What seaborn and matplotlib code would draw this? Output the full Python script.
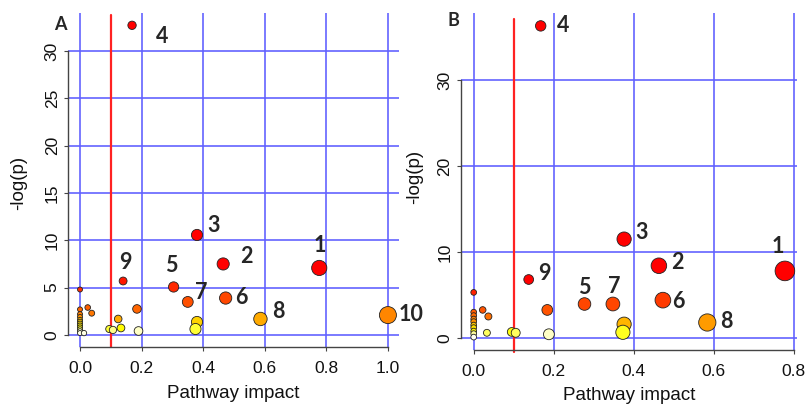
import numpy as np
import pandas as pd
import matplotlib
matplotlib.use("Agg")
import matplotlib.pyplot as plt
from matplotlib.colors import LinearSegmentedColormap, Normalize
import seaborn as sns

# ---------------- data ----------------
# Panel A
impact_a = [0.169, 0.380, 0.465, 0.777, 0.140, 0.304, 0.350, 0.473, 0.586, 1.000,
            0.185, 0.124, 0.133, 0.095, 0.107, 0.190, 0.380, 0.375, 0.025, 0.038,
            0.0, 0.0, 0.0, 0.0, 0.0, 0.0, 0.0, 0.0, 0.0, 0.0, 0.0, 0.0, 0.013]
logp_a = [32.7, 10.56, 7.5, 7.08, 5.7, 5.07, 3.49, 3.9, 1.69, 2.1,
          2.75, 1.69, 0.74, 0.63, 0.53, 0.42, 1.37, 0.63, 2.9, 2.3,
          4.8, 2.7, 2.2, 1.9, 1.6, 1.4, 1.2, 1.0, 0.8, 0.6, 0.4, 0.2, 0.2]
labels_a = ["4", "3", "2", "1", "9", "5", "7", "6", "8", "10"]

# Panel B
impact_b = [0.1675, 0.376, 0.463, 0.778, 0.1375, 0.277, 0.348, 0.473, 0.584,
            0.184, 0.0225, 0.0367, 0.033, 0.095, 0.105, 0.188, 0.376, 0.373,
            0.0, 0.0, 0.0, 0.0, 0.0, 0.0, 0.0, 0.0, 0.0, 0.0]
logp_b = [36.3, 11.5, 8.4, 7.8, 6.8, 3.95, 3.95, 4.4, 1.8,
          3.26, 3.26, 2.5, 0.6, 0.7, 0.6, 0.43, 1.6, 0.66,
          5.3, 3.0, 2.6, 2.2, 1.9, 1.5, 1.2, 0.8, 0.5, 0.1]
labels_b = ["4", "3", "2", "1", "9", "5", "7", "6", "8"]

xticks_a = [0.0, 0.2, 0.4, 0.6, 0.8, 1.0]
yticks_a = [0, 5, 10, 15, 20, 25, 30]
xticks_b = [0.0, 0.2, 0.4, 0.6, 0.8]
yticks_b = [0, 10, 20, 30]
threshold = 0.1

# label offsets in pixels (dx, dy up)
offs_a = [(30, -11), (17, 9), (23, 7), (1, 22), (2, 18), (-2, 21), (13, 9), (16, 1), (18, 7), (23, 1)]
offs_b = [(22, 0), (17, 7), (18, 3), (-7, 24), (16, 6), (0, 17), (1, 18), (15, -1), (19, 1)]

# ---------------- style ----------------
sns.set_style("white")
plt.rcParams["font.family"] = ["Liberation Sans", "DejaVu Sans"]

heat = LinearSegmentedColormap.from_list("heat", [
    (0.0, "#ffffff"), (0.45 / 7, "#ffffc0"), (0.7 / 7, "#ffff00"),
    (1.4 / 7, "#ffd000"), (1.8 / 7, "#ff9900"), (2.3 / 7, "#ff7700"),
    (3.0 / 7, "#ff5a00"), (4.0 / 7, "#ff4500"), (5.0 / 7, "#ff2a00"),
    (6.5 / 7, "#ff0000"), (1.0, "#ff0000")])
hnorm = Normalize(0, 7, clip=True)

fig = plt.figure(figsize=(8.11, 4.05), dpi=100)
W, H = 811, 405

panels = [
    dict(imp=impact_a, lp=logp_a, labs=labels_a, offs=offs_a, xt=xticks_a, yt=yticks_a,
         rect=(68, 13, 399, 347), xlim=(-0.039, 1.036), ylim=(-1.27, 34.0),
         sizes=(13, 150), snorm=(0, 1.0), letter="A", lpos=(60, 25),
         ylab=(-0.150, 0.491), xlab=(0.5, -0.140), rl=(0.0, 0.994)),
    dict(imp=impact_b, lp=logp_b, labs=labels_b, offs=offs_b, xt=xticks_b, yt=yticks_b,
         rect=(460.7, 13, 796.7, 350), xlim=(-0.0325, 0.8075), ylim=(-1.4, 37.8),
         sizes=(17, 200), snorm=(0, 0.78), letter="B", lpos=(453, 21),
         ylab=(-0.136, 0.513), xlab=(0.5, -0.136), rl=(-0.006, 0.981)),
]

for p in panels:
    l, t, r, b = p["rect"]
    ax = fig.add_axes([l / W, (H - b) / H, (r - l) / W, (b - t) / H])
    df = pd.DataFrame({"impact": p["imp"], "logp": p["lp"]})
    ax.set_xlim(*p["xlim"])
    ax.set_ylim(*p["ylim"])
    ax.set_xticks(p["xt"])
    ax.set_yticks(p["yt"])
    ax.set_xticklabels([f"{v:.1f}" for v in p["xt"]])
    ax.set_yticklabels([str(v) for v in p["yt"]], rotation=90, va="center")
    ax.grid(True, color="#6060ff", lw=1.3, alpha=0.9, zorder=0)
    ax.set_axisbelow(True)
    ax.axvline(threshold, ymin=p["rl"][0], ymax=p["rl"][1], color="#ff2222", lw=1.6,
               zorder=1, clip_on=False)
    sns.scatterplot(data=df, x="impact", y="logp", hue="logp", hue_norm=hnorm,
                    palette=heat, size="impact", sizes=p["sizes"], size_norm=p["snorm"],
                    edgecolor="#222222", linewidth=0.6, legend=False, ax=ax, zorder=3,
                    clip_on=False)
    for lab, x, y, (dx, dy) in zip(p["labs"], p["imp"], p["lp"], p["offs"]):
        ax.annotate(lab, (x, y), xytext=(dx, dy), textcoords="offset pixels",
                    ha="center", va="center", fontsize=15.5, fontweight="bold",
                    family=["Lato", "DejaVu Sans"], annotation_clip=False)
    for s in ["top", "right"]:
        ax.spines[s].set_visible(False)
    ax.spines["left"].set_bounds(p["yt"][0], p["yt"][-1])
    ax.spines["bottom"].set_bounds(p["xt"][0], p["xt"][-1])
    for s in ["left", "bottom"]:
        ax.spines[s].set_color("#444444")
        ax.spines[s].set_linewidth(1.0)
    ax.tick_params(axis="both", which="both", length=3, width=0.8, color="#444444",
                   labelsize=12.5, labelcolor="#111111", direction="out",
                   left=True, bottom=True)
    ax.tick_params(axis="y", pad=3)
    ax.tick_params(axis="x", pad=7)
    ax.set_xlabel("Pathway impact", fontsize=13.5, color="#111111")
    ax.set_ylabel("-log(p)", fontsize=13.5, color="#111111")
    ax.xaxis.label.set_va("center")
    ax.yaxis.label.set_va("center")
    ax.xaxis.set_label_coords(*p["xlab"])
    ax.yaxis.set_label_coords(*p["ylab"])
    fig.text(p["lpos"][0] / W, 1 - p["lpos"][1] / H, p["letter"], ha="center", va="center",
             fontsize=13, fontweight="bold", family=["Lato", "DejaVu Sans"])

fig.savefig("out.png", dpi=100)
